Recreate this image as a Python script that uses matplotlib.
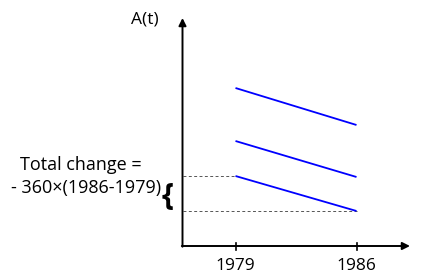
import matplotlib
matplotlib.use("Agg")
import matplotlib.pyplot as plt

plt.rcParams['font.family'] = ['Open Sans', 'DejaVu Sans']

# Data
years = [1979, 1986]
tick_labels = ["1979", "1986"]
line_top = [158, 121]
line_mid = [105, 69]
line_bottom = [70, 35]

W, H = 426, 276
fig = plt.figure(figsize=(W / 100, H / 100), dpi=100)
ax = fig.add_axes([0, 0, 1, 1])
ppy = 121 / 7.0  # pixels per year
ax.set_xlim(1979 - 235.5 / ppy, 1979 + (W - 235.5) / ppy)
ax.set_ylim(-30, 246)
ax.axis('off')

x0 = 1979 - (235.5 - 182.5) / ppy
x_end = 1979 + (410 - 235.5) / ppy
y_end = 228

# axes with arrows
ap = dict(arrowstyle='-|>', lw=1.4, color='black', mutation_scale=11, shrinkA=0, shrinkB=0)
ax.annotate('', xy=(x0, y_end), xytext=(x0, -0.7), arrowprops=ap)
ax.annotate('', xy=(x_end, 0), xytext=(x0 - 0.04, 0), arrowprops=ap)

# ticks
for yr, lab in zip(years, tick_labels):
    ax.plot([yr, yr], [-3.5, 3.5], color='black', lw=1.2)
    ax.text(yr, -20, lab, ha='center', va='center', fontsize=12.5)

# dashed guides
ax.plot([x0, years[0]], [line_bottom[0]] * 2, color='#555555', lw=0.7, dashes=(3, 2.5))
ax.plot([x0, years[1]], [line_bottom[1]] * 2, color='#555555', lw=0.7, dashes=(3, 2.5))

# blue lines
for ys in (line_top, line_mid, line_bottom):
    ax.plot(years, ys, color='#0000ff', lw=1.3, solid_capstyle='butt')

# labels
def ft(x, y, s, **kw):
    fig.text(x / W, 1 - y / H, s, **kw)

ft(145, 19, "A(t)", ha='center', va='center', fontsize=12.5)
ft(20, 165, "Total change =", ha='left', va='center', fontsize=13)
ft(11, 188, "- 360×(1986-1979)", ha='left', va='center', fontsize=13)
ft(168, 197, "{", ha='center', va='center', fontsize=22, fontweight='bold')

fig.savefig("out.png", dpi=100)
